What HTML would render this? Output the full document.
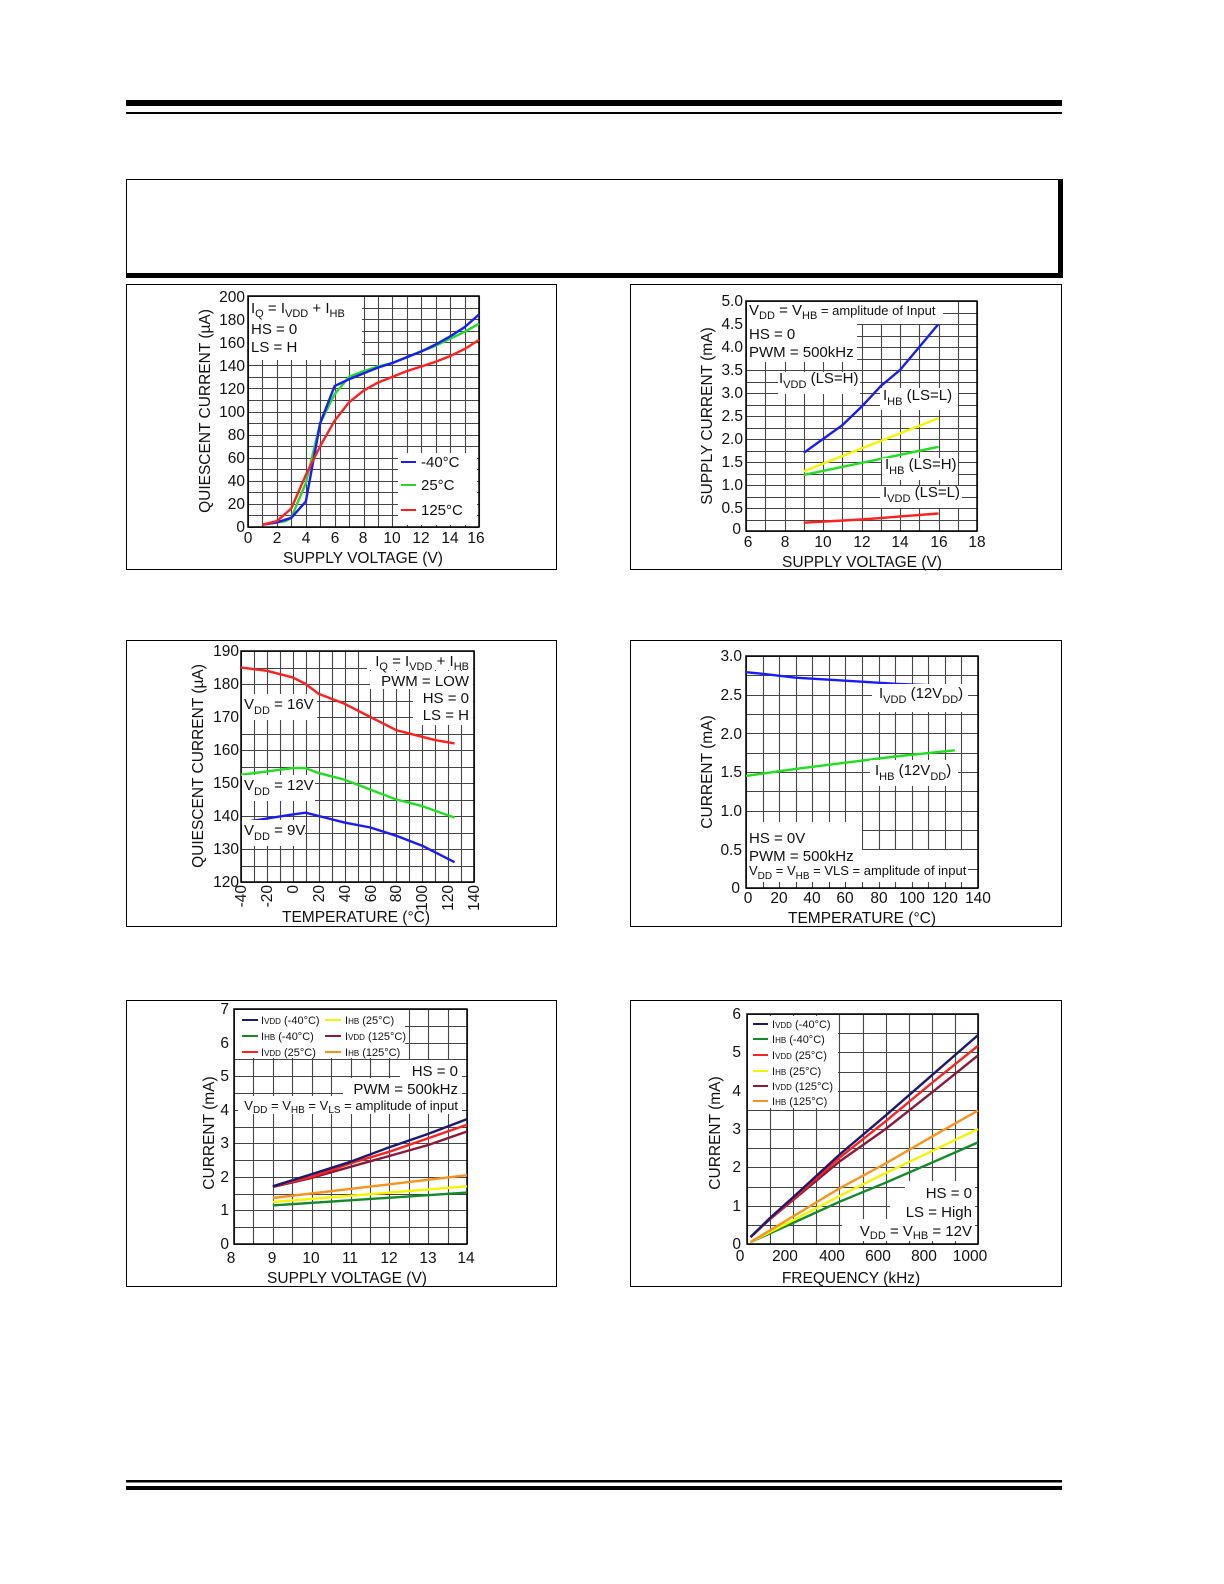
<!DOCTYPE html>
<html><head><meta charset="utf-8"><style>
html,body{margin:0;padding:0;background:#fff}
svg{display:block}
text{font-family:"Liberation Sans",Arial,sans-serif;fill:#111}
.t{font-size:15px}
.yt{font-size:15.5px;text-anchor:end}
.xt{font-size:15.5px;text-anchor:middle}
.ti{font-size:15.5px;text-anchor:middle}
.lg{font-size:11px}
</style></head><body>
<svg id="s" width="1224" height="1584" viewBox="0 0 1224 1584" xmlns="http://www.w3.org/2000/svg">
<rect x="126" y="100" width="936" height="6" fill="#000"/>
<rect x="126" y="112" width="936" height="2" fill="#000"/>
<rect x="126.5" y="179.5" width="934" height="96" fill="none" stroke="#000" stroke-width="1"/>
<rect x="1058" y="179" width="5" height="99" fill="#000"/>
<rect x="126" y="273" width="937" height="5" fill="#000"/>
<rect x="126" y="1480" width="936" height="2.5" fill="#000"/>
<rect x="126" y="1486" width="936" height="4" fill="#000"/>
<g fill="none" stroke="#000" stroke-width="1">
<rect x="126.5" y="284.5" width="430" height="285"/>
<rect x="630.5" y="284.5" width="431" height="285"/>
<rect x="126.5" y="640.5" width="430" height="286"/>
<rect x="630.5" y="640.5" width="431" height="286"/>
<rect x="126.5" y="1000.5" width="430" height="286"/>
<rect x="630.5" y="1000.5" width="431" height="286"/>
</g>
<g id="grid"></g>
<g id="curves"></g>
<g fill="#fff">
<rect x="249" y="297" width="113" height="63"/>
<rect x="398" y="453" width="79" height="72"/>
<rect x="747" y="302" width="196" height="22"/>
<rect x="747" y="322" width="110" height="40"/>
<rect x="778" y="372" width="82" height="22"/>
<rect x="880" y="388" width="78" height="22"/>
<rect x="882" y="458" width="76" height="22"/>
<rect x="880" y="486" width="82" height="22"/>
<rect x="367" y="652" width="106" height="18"/>
<rect x="370" y="671" width="103" height="18"/>
<rect x="413" y="689" width="60" height="36"/>
<rect x="242" y="694" width="75" height="26"/>
<rect x="242" y="775" width="73" height="26"/>
<rect x="242" y="820" width="63" height="26"/>
<rect x="872" y="684" width="96" height="28"/>
<rect x="870" y="760" width="88" height="26"/>
<rect x="747" y="822" width="115" height="36"/>
<rect x="747" y="850" width="221" height="32"/>
<rect x="235" y="1010" width="170" height="48"/>
<rect x="400" y="1060" width="62" height="19"/>
<rect x="343" y="1078" width="119" height="18"/>
<rect x="238" y="1096" width="224" height="18"/>
<rect x="748" y="1016" width="90" height="92"/>
<rect x="905" y="1181" width="70" height="19"/>
<rect x="890" y="1200" width="85" height="19"/>
<rect x="842" y="1219" width="133" height="22"/>
</g>

<g class="t">
<text x="251" y="313">I<tspan font-size="11" dy="4">Q</tspan><tspan dy="-4"> = I</tspan><tspan font-size="11" dy="4">VDD</tspan><tspan dy="-4"> + I</tspan><tspan font-size="11" dy="4">HB</tspan></text>
<text x="251" y="334">HS = 0</text>
<text x="251" y="352">LS = H</text>
<line x1="401" y1="462" x2="416" y2="462" stroke="#1a1aff" stroke-width="2"/>
<text x="421" y="467">-40°C</text>
<line x1="401" y1="485" x2="416" y2="485" stroke="#22dd22" stroke-width="2"/>
<text x="421" y="490">25°C</text>
<line x1="401" y1="510" x2="416" y2="510" stroke="#ff2020" stroke-width="2"/>
<text x="421" y="515">125°C</text>
</g>
<g class="yt">
<text x="245" y="532">0</text><text x="245" y="509">20</text><text x="245" y="486">40</text><text x="245" y="463">60</text><text x="245" y="440">80</text><text x="245" y="417">100</text><text x="245" y="394">120</text><text x="245" y="371">140</text><text x="245" y="348">160</text><text x="245" y="325">180</text><text x="245" y="302">200</text>
</g>
<g class="xt">
<text x="248" y="543">0</text><text x="277" y="543">2</text><text x="306" y="543">4</text><text x="335" y="543">6</text><text x="363" y="543">8</text><text x="392" y="543">10</text><text x="421" y="543">12</text><text x="450" y="543">14</text><text x="476" y="543">16</text>
</g>
<text class="ti" x="363" y="563">SUPPLY VOLTAGE (V)</text>
<text class="ti" transform="translate(210,411) rotate(-90)">QUIESCENT CURRENT (µA)</text>

<g class="t">
<text x="749" y="315">V<tspan font-size="11" dy="4">DD</tspan><tspan dy="-4"> = V</tspan><tspan font-size="11" dy="4">HB</tspan><tspan dy="-4" font-size="13"> = amplitude of Input</tspan></text>
<text x="749" y="339">HS = 0</text>
<text x="749" y="357">PWM = 500kHz</text>
<text x="779" y="383">I<tspan font-size="11" dy="5">VDD</tspan><tspan dy="-5"> (LS=H)</tspan></text>
<text x="883" y="400">I<tspan font-size="11" dy="5">HB</tspan><tspan dy="-5"> (LS=L)</tspan></text>
<text x="885" y="469">I<tspan font-size="11" dy="5">HB</tspan><tspan dy="-5"> (LS=H)</tspan></text>
<text x="883" y="497">I<tspan font-size="11" dy="5">VDD</tspan><tspan dy="-5"> (LS=L)</tspan></text>
</g>
<g class="yt">
<text x="741" y="534">0</text><text x="743" y="513">0.5</text><text x="743" y="490">1.0</text><text x="743" y="467">1.5</text><text x="743" y="444">2.0</text><text x="743" y="421">2.5</text><text x="743" y="398">3.0</text><text x="743" y="375">3.5</text><text x="743" y="352">4.0</text><text x="743" y="329">4.5</text><text x="743" y="306">5.0</text>
</g>
<g class="xt">
<text x="748" y="547">6</text><text x="785" y="547">8</text><text x="823" y="547">10</text><text x="862" y="547">12</text><text x="900" y="547">14</text><text x="939" y="547">16</text><text x="977" y="547">18</text>
</g>
<text class="ti" x="862" y="567">SUPPLY VOLTAGE (V)</text>
<text class="ti" transform="translate(712,416) rotate(-90)">SUPPLY CURRENT (mA)</text>

<g class="t" text-anchor="end">
<text x="469" y="666">I<tspan font-size="11" dy="4">Q</tspan><tspan dy="-4"> = I</tspan><tspan font-size="11" dy="4">VDD</tspan><tspan dy="-4"> + I</tspan><tspan font-size="11" dy="4">HB</tspan></text>
<text x="469" y="686">PWM = LOW</text>
<text x="469" y="703">HS = 0</text>
<text x="469" y="720">LS = H</text>
</g>
<g class="t">
<text x="244" y="709">V<tspan font-size="11" dy="5">DD</tspan><tspan dy="-5"> = 16V</tspan></text>
<text x="244" y="790">V<tspan font-size="11" dy="5">DD</tspan><tspan dy="-5"> = 12V</tspan></text>
<text x="244" y="835">V<tspan font-size="11" dy="5">DD</tspan><tspan dy="-5"> = 9V</tspan></text>
</g>
<g class="yt">
<text x="239" y="887">120</text><text x="239" y="854">130</text><text x="239" y="821">140</text><text x="239" y="788">150</text><text x="239" y="755">160</text><text x="239" y="722">170</text><text x="239" y="689">180</text><text x="239" y="656">190</text>
</g>
<g class="yt">
<text transform="translate(246,885) rotate(-90)">-40</text>
<text transform="translate(272,885) rotate(-90)">-20</text>
<text transform="translate(298,885) rotate(-90)">0</text>
<text transform="translate(324,885) rotate(-90)">20</text>
<text transform="translate(350,885) rotate(-90)">40</text>
<text transform="translate(376,885) rotate(-90)">60</text>
<text transform="translate(401,885) rotate(-90)">80</text>
<text transform="translate(427,885) rotate(-90)">100</text>
<text transform="translate(453,885) rotate(-90)">120</text>
<text transform="translate(479,885) rotate(-90)">140</text>
</g>
<text class="ti" x="356" y="922">TEMPERATURE (°C)</text>
<text class="ti" transform="translate(203,766) rotate(-90)">QUIESCENT CURRENT (µA)</text>

<g class="t">
<text x="879" y="698">I<tspan font-size="11" dy="5">VDD</tspan><tspan dy="-5"> (12V</tspan><tspan font-size="11" dy="5">DD</tspan><tspan dy="-5">)</tspan></text>
<text x="875" y="775">I<tspan font-size="11" dy="5">HB</tspan><tspan dy="-5"> (12V</tspan><tspan font-size="11" dy="5">DD</tspan><tspan dy="-5">)</tspan></text>
<text x="749" y="843">HS = 0V</text>
<text x="749" y="861">PWM = 500kHz</text>
<text x="749" y="875" font-size="13">V<tspan font-size="10" dy="4">DD</tspan><tspan dy="-4"> = V</tspan><tspan font-size="10" dy="4">HB</tspan><tspan dy="-4"> = VLS = amplitude of input</tspan></text>
</g>
<g class="yt">
<text x="740" y="893">0</text><text x="742" y="855">0.5</text><text x="742" y="816">1.0</text><text x="742" y="777">1.5</text><text x="742" y="739">2.0</text><text x="742" y="700">2.5</text><text x="742" y="661">3.0</text>
</g>
<g class="xt">
<text x="748" y="903">0</text><text x="779" y="903">20</text><text x="812" y="903">40</text><text x="845" y="903">60</text><text x="879" y="903">80</text><text x="912" y="903">100</text><text x="945" y="903">120</text><text x="978" y="903">140</text>
</g>
<text class="ti" x="862" y="923">TEMPERATURE (°C)</text>
<text class="ti" transform="translate(712,772) rotate(-90)">CURRENT (mA)</text>

<g class="lg">
<line x1="242" y1="1020" x2="258" y2="1020" stroke="#1a1a6e" stroke-width="2"/><text x="261" y="1024">I<tspan font-size="8">VDD</tspan> (-40°C)</text>
<line x1="242" y1="1036" x2="258" y2="1036" stroke="#138a2a" stroke-width="2"/><text x="261" y="1040">I<tspan font-size="8">HB</tspan> (-40°C)</text>
<line x1="242" y1="1052" x2="258" y2="1052" stroke="#ff2020" stroke-width="2"/><text x="261" y="1056">I<tspan font-size="8">VDD</tspan> (25°C)</text>
<line x1="325" y1="1020" x2="341" y2="1020" stroke="#f5f500" stroke-width="2"/><text x="345" y="1024">I<tspan font-size="8">HB</tspan> (25°C)</text>
<line x1="325" y1="1036" x2="341" y2="1036" stroke="#8b1a3a" stroke-width="2"/><text x="345" y="1040">I<tspan font-size="8">VDD</tspan> (125°C)</text>
<line x1="325" y1="1052" x2="341" y2="1052" stroke="#f7941d" stroke-width="2"/><text x="345" y="1056">I<tspan font-size="8">HB</tspan> (125°C)</text>
</g>
<g class="t" text-anchor="end">
<text x="458" y="1076">HS = 0</text>
<text x="458" y="1094">PWM = 500kHz</text>
<text x="458" y="1110" font-size="13">V<tspan font-size="10" dy="3">DD</tspan><tspan dy="-3"> = V</tspan><tspan font-size="10" dy="3">HB</tspan><tspan dy="-3"> = V</tspan><tspan font-size="10" dy="3">LS</tspan><tspan dy="-3"> = amplitude of input</tspan></text>
</g>
<g class="yt">
<text x="229" y="1249">0</text><text x="229" y="1215">1</text><text x="229" y="1182">2</text><text x="229" y="1148">3</text><text x="229" y="1115">4</text><text x="229" y="1081">5</text><text x="229" y="1048">6</text><text x="229" y="1014">7</text>
</g>
<g class="xt">
<text x="231" y="1263">8</text><text x="272" y="1263">9</text><text x="311" y="1263">10</text><text x="350" y="1263">11</text><text x="389" y="1263">12</text><text x="428" y="1263">13</text><text x="466" y="1263">14</text>
</g>
<text class="ti" x="347" y="1283">SUPPLY VOLTAGE (V)</text>
<text class="ti" transform="translate(214,1133) rotate(-90)">CURRENT (mA)</text>

<g class="lg">
<line x1="753" y1="1024" x2="768" y2="1024" stroke="#1a1a6e" stroke-width="2"/><text x="772" y="1028">I<tspan font-size="8">VDD</tspan> (-40°C)</text>
<line x1="753" y1="1039" x2="768" y2="1039" stroke="#138a2a" stroke-width="2"/><text x="772" y="1043">I<tspan font-size="8">HB</tspan> (-40°C)</text>
<line x1="753" y1="1055" x2="768" y2="1055" stroke="#ff2020" stroke-width="2"/><text x="772" y="1059">I<tspan font-size="8">VDD</tspan> (25°C)</text>
<line x1="753" y1="1071" x2="768" y2="1071" stroke="#f5f500" stroke-width="2"/><text x="772" y="1075">I<tspan font-size="8">HB</tspan> (25°C)</text>
<line x1="753" y1="1086" x2="768" y2="1086" stroke="#8b1a3a" stroke-width="2"/><text x="772" y="1090">I<tspan font-size="8">VDD</tspan> (125°C)</text>
<line x1="753" y1="1101" x2="768" y2="1101" stroke="#f7941d" stroke-width="2"/><text x="772" y="1105">I<tspan font-size="8">HB</tspan> (125°C)</text>
</g>
<g class="t" text-anchor="end">
<text x="972" y="1198">HS = 0</text>
<text x="972" y="1217">LS = High</text>
<text x="972" y="1236">V<tspan font-size="11" dy="3">DD</tspan><tspan dy="-3"> = V</tspan><tspan font-size="11" dy="3">HB</tspan><tspan dy="-3"> = 12V</tspan></text>
</g>
<g class="yt">
<text x="741" y="1249">0</text><text x="741" y="1211">1</text><text x="741" y="1172">2</text><text x="741" y="1134">3</text><text x="741" y="1096">4</text><text x="741" y="1057">5</text><text x="741" y="1019">6</text>
</g>
<g class="xt">
<text x="740" y="1261">0</text><text x="785" y="1261">200</text><text x="832" y="1261">400</text><text x="878" y="1261">600</text><text x="924" y="1261">800</text><text x="970" y="1261">1000</text>
</g>
<text class="ti" x="851" y="1283">FREQUENCY (kHz)</text>
<text class="ti" transform="translate(720,1133) rotate(-90)">CURRENT (mA)</text>
</svg>
<script>
var NS="http://www.w3.org/2000/svg";
var G=document.getElementById("grid"),C=document.getElementById("curves");
function el(p,n,a){var e=document.createElementNS(NS,n);for(var k in a)e.setAttribute(k,a[k]);p.appendChild(e);return e;}
function chart(o){
  var sx=function(v){return o.x0+(v-o.xa)/(o.xb-o.xa)*(o.x1-o.x0);};
  var sy=function(v){return o.y1-(v-o.ya)/(o.yb-o.ya)*(o.y1-o.y0);};
  for(var v=o.xa;v<=o.xb+1e-9;v+=o.xs){var x=Math.round(sx(v))+0.5;el(G,"line",{x1:x,y1:o.y0,x2:x,y2:o.y1,stroke:"#444","stroke-width":1.1});}
  for(var v=o.ya;v<=o.yb+1e-9;v+=o.ys){var y=Math.round(sy(v))+0.5;el(G,"line",{x1:o.x0,y1:y,x2:o.x1,y2:y,stroke:"#444","stroke-width":1.1});}
  el(G,"rect",{x:o.x0,y:o.y0,width:o.x1-o.x0,height:o.y1-o.y0,fill:"none",stroke:"#000","stroke-width":1.5});
  o.s.forEach(function(s){
    var pts=s[1].map(function(p){return sx(p[0]).toFixed(1)+","+sy(p[1]).toFixed(1);}).join(" ");
    el(C,"polyline",{points:pts,fill:"none",stroke:s[0],"stroke-width":2.4,"stroke-linejoin":"round"});
  });
}
chart({x0:248,x1:479,y0:296,y1:527,xa:0,xb:16,ya:0,yb:200,xs:1,ys:10,s:[
 ["#22dd22",[[1,2],[2,4],[2.6,5],[3,8],[4,38],[5,90],[6,115],[7,130],[8,135],[9,139],[10,142],[11,147],[12,152],[13,157],[14,163],[15,169],[16,176]]],
 ["#1a1aff",[[1,2],[2,4],[3,8],[4,22],[5,90],[6,122],[7,128],[8,133],[9,138],[10,142],[11,147],[12,152],[13,158],[14,165],[15,173],[16,184]]],
 ["#ff2020",[[1,2],[2,5],[3,16],[4,45],[5,70],[6,92],[7,108],[8,118],[9,125],[10,130],[11,135],[12,139],[13,143],[14,148],[15,154],[16,162]]]]});
chart({x0:746,x1:977,y0:301,y1:531,xa:6,xb:18,ya:0,yb:5,xs:1,ys:0.25,s:[
 ["#1a1aff",[[9,1.7],[10,2.0],[11,2.3],[12,2.7],[13,3.15],[14,3.5],[15,4.0],[16,4.5]]],
 ["#f5f500",[[9,1.3],[16,2.45]]],
 ["#22dd22",[[9,1.22],[16,1.83]]],
 ["#ff2020",[[9,0.18],[12,0.25],[16,0.38]]]]});
chart({x0:241,x1:474,y0:651,y1:882,xa:-40,xb:140,ya:120,yb:190,xs:10,ys:5,s:[
 ["#ff2020",[[-40,185],[-20,184],[0,182],[10,180],[20,177],[40,174],[60,170],[80,166],[100,164],[110,163],[125,162]]],
 ["#22dd22",[[-40,152.5],[0,154.5],[10,154.5],[20,153],[40,151],[60,148],[80,145],[100,143],[125,139.5]]],
 ["#1a1aff",[[-40,138],[0,140.5],[10,141],[20,140],[40,138],[60,136.5],[80,134],[100,131],[110,129],[125,126]]]]});
chart({x0:746,x1:978,y0:656,y1:888,xa:0,xb:140,ya:0,yb:3,xs:10,ys:0.25,s:[
 ["#1a1aff",[[0,2.79],[10,2.77],[30,2.72],[60,2.68],[90,2.64],[126,2.61]]],
 ["#22dd22",[[0,1.45],[30,1.54],[60,1.62],[90,1.7],[126,1.78]]]]});
chart({x0:234,x1:467,y0:1009,y1:1244,xa:8,xb:14,ya:0,yb:7,xs:0.5,ys:0.5,s:[
 ["#f7941d",[[9,1.37],[14,2.05]]],
 ["#f5f500",[[9,1.25],[14,1.72]]],
 ["#138a2a",[[9,1.15],[14,1.53]]],
 ["#8b1a3a",[[9,1.7],[10,1.97],[11,2.3],[12,2.62],[13,2.95],[14,3.35]]],
 ["#ff2020",[[9,1.72],[10,2.0],[11,2.4],[12,2.75],[13,3.15],[14,3.55]]],
 ["#1a1a6e",[[9,1.72],[10,2.08],[11,2.45],[12,2.88],[13,3.28],[14,3.72]]]]});
chart({x0:747,x1:978,y0:1014,y1:1244,xa:0,xb:1000,ya:0,yb:6,xs:100,ys:0.5,s:[
 ["#138a2a",[[15,0.05],[200,0.55],[400,1.1],[600,1.6],[800,2.12],[1000,2.65]]],
 ["#f5f500",[[15,0.05],[200,0.62],[400,1.25],[600,1.85],[800,2.42],[1000,3.0]]],
 ["#f7941d",[[15,0.05],[200,0.72],[400,1.45],[600,2.1],[800,2.8],[1000,3.48]]],
 ["#8b1a3a",[[15,0.18],[100,0.65],[200,1.15],[400,2.15],[600,3.0],[800,3.95],[1000,4.92]]],
 ["#ff2020",[[15,0.18],[100,0.67],[200,1.18],[400,2.25],[600,3.2],[800,4.2],[1000,5.17]]],
 ["#1a1a6e",[[15,0.18],[100,0.68],[200,1.22],[400,2.33],[600,3.35],[800,4.4],[1000,5.45]]]]});
</script>
</body></html>
